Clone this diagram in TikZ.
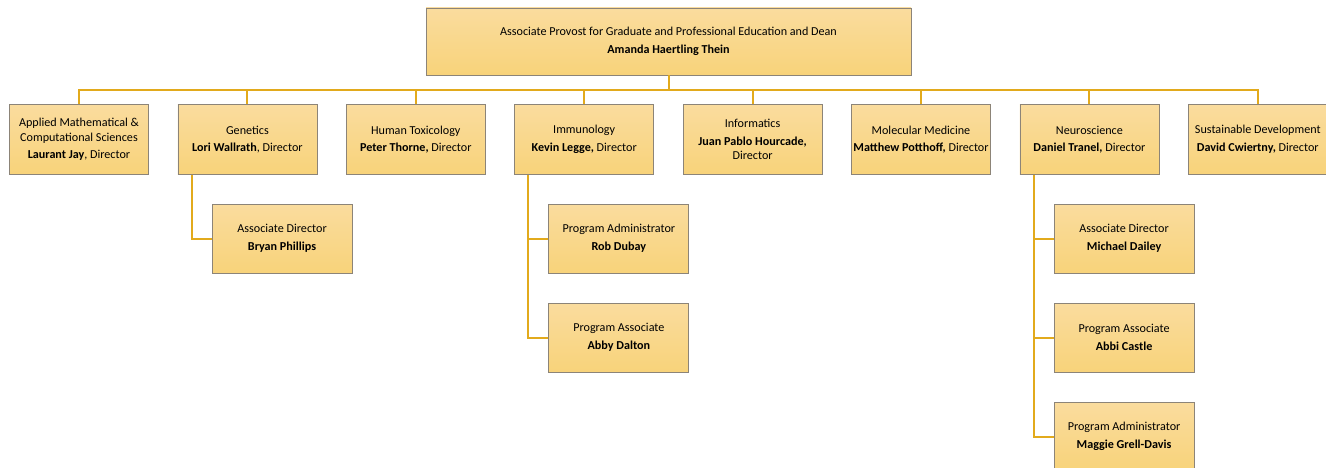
\documentclass[tikz,border=0pt]{standalone}
\usepackage{fontspec}
\setmainfont{Carlito}
\definecolor{boxtop}{HTML}{FADC9E}
\definecolor{boxbottom}{HTML}{F8D37A}
\definecolor{boxline}{HTML}{8C8478}
\definecolor{linkgold}{HTML}{E2AA1C}
\begin{document}
\begin{tikzpicture}[x=0.75pt, y=-0.75pt, node distance=126.3pt, every node/.style={align=center}]
        \tikzstyle{block}=[rectangle, draw=boxline, line width=0.6pt, top color=boxtop, bottom color=boxbottom, align=center, minimum width=104.25pt, minimum height=52.5pt, inner sep=1pt, font=\fontsize{9.1}{10.6}\selectfont];
        \tikzstyle{subblock}=[block, minimum width=105pt, minimum height=51.75pt, node distance=74.25pt, xshift=26pt];
        \tikzstyle{edge}=[linkgold, line width=1.5pt];
        \useasboundingbox (0,0) rectangle (1326,467);
        \clip (0,0) rectangle (1326,467);
        \node[block, minimum width=363.75pt, minimum height=50.25pt] (provost) at (668.5,41.5) {Associate Provost for Graduate and Professional Education and Dean\\[2.6pt]\textbf{Amanda Haertling Thein}};
        \node[block] (amcs) at (79,139.5) {Applied Mathematical \&\\Computational Sciences\\[2.6pt]\textbf{Laurant Jay}, Director};
        \node[block, right of=amcs] (genetics) {Genetics\\[2.6pt]\textbf{Lori Wallrath}, Director};
        \node[block, right of=genetics] (humtox) {Human Toxicology\\[2.6pt]\textbf{Peter Thorne,} Director};
        \node[block, right of=humtox] (immuno) {Immunology\\[2.6pt]\textbf{Kevin Legge,} Director};
        \node[block, right of=immuno] (informatics) {Informatics\\[2.6pt]\textbf{Juan Pablo Hourcade,}\\Director};
        \node[block, right of=informatics] (molmed) {Molecular Medicine\\[2.6pt]\textbf{Matthew Potthoff,} Director};
        \node[block, right of=molmed] (neuro) {Neuroscience\\[2.6pt]\textbf{Daniel Tranel,} Director};
        \node[block, right of=neuro] (susdev) {Sustainable Development\\[2.6pt]\textbf{David Cwiertny,} Director};
        % second row
        \node[subblock, below of=genetics] (genAD) {Associate Director\\[2.6pt]\textbf{Bryan Phillips}};
        \node[subblock, below of=immuno] (immPadmin) {Program Administrator\\[2.6pt]\textbf{Rob Dubay}};
        \node[subblock, below of=immPadmin, xshift=-26pt] (immPassoc) {Program Associate\\[2.6pt]\textbf{Abby Dalton}};
        \node[subblock, below of=neuro] (neuAD) {Associate Director\\[2.6pt]\textbf{Michael Dailey}};
        \node[subblock, below of=neuAD, xshift=-26pt] (neuPassoc) {Program Associate\\[2.6pt]\textbf{Abbi Castle}};
        \node[subblock, below of=neuPassoc, xshift=-26pt] (neuPadmin) {Program Administrator\\[2.6pt]\textbf{Maggie Grell-Davis}};
        % links
        \draw[edge] (provost.south) -- ++(0,14.5) -| (amcs.north);
        \draw[edge] (provost.south) -- ++(0,14.5) -| (genetics.north);
        \draw[edge] (provost.south) -- ++(0,14.5) -| (humtox.north);
        \draw[edge] (provost.south) -- ++(0,14.5) -| (immuno.north);
        \draw[edge] (provost.south) -- ++(0,14.5) -| (informatics.north);
        \draw[edge] (provost.south) -- ++(0,14.5) -| (molmed.north);
        \draw[edge] (provost.south) -- ++(0,14.5) -| (neuro.north);
        \draw[edge] (provost.south) -- ++(0,14.5) -| (susdev.north);
        \draw[edge] ([xshift=10.5pt]genetics.south west) |- (genAD.west);
        \draw[edge] ([xshift=10.5pt]immuno.south west) |- (immPadmin.west);
        \draw[edge] ([xshift=10.5pt]immuno.south west) |- (immPassoc.west);
        \draw[edge] ([xshift=10.5pt]neuro.south west) |- (neuAD.west);
        \draw[edge] ([xshift=10.5pt]neuro.south west) |- (neuPassoc.west);
        \draw[edge] ([xshift=10.5pt]neuro.south west) |- (neuPadmin.west);
    \end{tikzpicture}
\end{document}
